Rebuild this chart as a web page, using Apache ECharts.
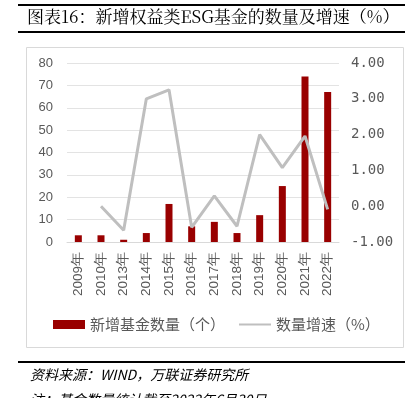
<!DOCTYPE html>
<html><head><meta charset="utf-8">
<script src="https://cdn.jsdelivr.net/npm/echarts@6/dist/echarts.min.js"></script>
<style>html,body{margin:0;padding:0;background:#fff;}#c{width:405px;height:398px;}</style>
</head><body><div id="c"></div>
<script>
var categories = ['2009年','2010年','2013年','2014年','2015年','2016年','2017年','2018年','2019年','2020年','2021年','2022年'];
var newFunds = [3, 3, 1, 4, 17, 7, 9, 4, 12, 25, 74, 67];
var growth = [null, 0.00, -0.67, 3.00, 3.25, -0.59, 0.29, -0.56, 2.00, 1.08, 1.96, -0.09];
var leftTicks = [0, 80, 10];
var rightTicks = [-1, 4, 1];

var chart = echarts.init(document.getElementById('c'));
var font = '"Liberation Sans", Arial, sans-serif';
var cjk = '"Noto Sans CJK SC", sans-serif';
chart.setOption({
  animation: false,
  graphic: [
    {type:'rect', shape:{x:18,y:4,width:400,height:2}, style:{fill:'#000'}},
    {type:'text', left:27, top:8, style:{text:'图表16：新增权益类ESG基金的数量及增速（%）', font:'17px "Noto Serif CJK SC", "Noto Sans CJK SC", serif', fill:'#000'}},
    {type:'rect', shape:{x:18,y:31,width:400,height:2}, style:{fill:'#000'}},
    {type:'rect', shape:{x:26.5,y:47.5,width:377,height:300}, style:{fill:'none', stroke:'#d9d9d9', lineWidth:1}},
    {type:'rect', shape:{x:18,y:361,width:400,height:2}, style:{fill:'#000'}},
    {type:'text', left:30, top:368, style:{text:'资料来源：WIND，万联证券研究所', font:'italic 14px "Noto Sans CJK SC", sans-serif', fill:'#000'}},
    {type:'text', left:30, top:393, style:{text:'注：基金数量统计截至2022年6月30日', font:'italic 14px "Noto Sans CJK SC", sans-serif', fill:'#000'}}
  ],
  grid: {left:67, right:66, top:63, bottom:156},
  legend: {
    bottom: 61, left: 48, itemGap: 14,
    textStyle: {fontFamily: cjk, fontSize: 15, color: '#595959'},
    data: [
      {name:'新增基金数量（个）', icon:'rect', itemStyle:{color:'#990000'}},
      {name:'数量增速（%）', icon:'path://M0,4 L32,4 L32,6 L0,6 Z', itemStyle:{color:'#bfbfbf'}}
    ],
    itemWidth: 32, itemHeight: 9
  },
  xAxis: {
    type:'category', data: categories,
    axisLine:{lineStyle:{color:'#d9d9d9'}}, axisTick:{show:false},
    axisLabel:{rotate:90, fontFamily: font, fontSize:13.5, color:'#595959', margin:10, interval:0}
  },
  yAxis: [
    {type:'value', min:leftTicks[0], max:leftTicks[1], interval:leftTicks[2],
     axisLine:{show:false}, axisTick:{show:false},
     splitLine:{lineStyle:{color:'#e3e3e3', width:1}},
     axisLabel:{fontFamily: font, fontSize:13, color:'#595959', margin:14}},
    {type:'value', min:rightTicks[0], max:rightTicks[1], interval:rightTicks[2],
     axisLine:{show:false}, axisTick:{show:false}, splitLine:{show:false},
     axisLabel:{fontFamily: '"DejaVu Sans Mono", monospace', fontSize:14, color:'#595959', margin:12,
       formatter: function(v){ return v.toFixed(2); }}}
  ],
  series: [
    {name:'新增基金数量（个）', type:'bar', data:newFunds, barWidth:7,
     itemStyle:{color:'#990000'}},
    {name:'数量增速（%）', type:'line', yAxisIndex:1, data:growth, symbol:'none',
     lineStyle:{color:'#bfbfbf', width:3}, itemStyle:{color:'#bfbfbf'}}
  ]
});
</script></body></html>
